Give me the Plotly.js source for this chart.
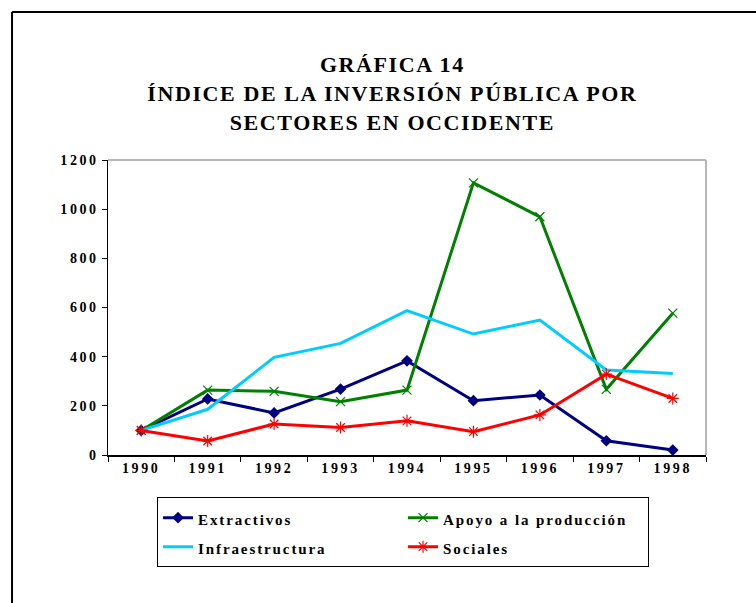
<!DOCTYPE html>
<html><head><meta charset="utf-8">
<script src="https://cdn.plot.ly/plotly-3.0.1.min.js"></script>
<style>
html,body{margin:0;padding:0;background:#fff;}
#c{width:756px;height:603px;}
.gtitle{letter-spacing:1.6px;}
.xtick text,.ytick text{letter-spacing:2.6px;}
.legendtext{letter-spacing:1.9px;}
</style>
</head><body><div id="c"></div>
<script>
const years = ['1990','1991','1992','1993','1994','1995','1996','1997','1998'];
const extractivos = [100, 228, 171, 268, 383, 221, 244, 58, 20];
const apoyo = [100, 264, 259, 217, 264, 1107, 969, 267, 577];
const infraestructura = [100, 186, 397, 454, 587, 492, 549, 346, 332];
const sociales = [100, 57, 126, 112, 139, 95, 163, 329, 230];
const yTicks = [0, 200, 400, 600, 800, 1000, 1200];

const lbl = s => '<span style="font-size:15px">' + s + '</span>';
const traces = [
  {x: years, y: extractivos, name: lbl('Extractivos'), mode: 'lines+markers',
   line: {color: '#000080', width: 3}, marker: {symbol: 'diamond', size: 9, color: '#000080'}},
  {x: years, y: apoyo, name: lbl('Apoyo a la producción'), mode: 'lines+markers',
   line: {color: '#008000', width: 3}, marker: {symbol: 'x-thin', size: 9, line: {color: '#008000', width: 1.2}}},
  {x: years, y: infraestructura, name: lbl('Infraestructura'), mode: 'lines',
   line: {color: '#00CCFF', width: 3}},
  {x: years, y: sociales, name: lbl('Sociales'), mode: 'lines+markers',
   line: {color: '#FF0000', width: 3}, marker: {symbol: 'asterisk-open', size: 10, line: {color: '#FF0000', width: 1.2}}}
];

const serif = 'Liberation Serif, Times New Roman, serif';
const layout = {
  width: 756, height: 603,
  margin: {l: 108, r: 50, t: 160, b: 148},
  paper_bgcolor: '#fff', plot_bgcolor: '#fff',
  title: {text: 'GRÁFICA 14<br>ÍNDICE DE LA INVERSIÓN PÚBLICA POR<br>SECTORES EN OCCIDENTE',
          font: {family: serif, size: 22, color: '#000', weight: 'bold'},
          x: 0.519, xanchor: 'center', y: 0.88, yanchor: 'top'},
  xaxis: {type: 'category', tickson: 'boundaries', ticks: 'outside', ticklen: 5, tickcolor: '#000',
          showline: true, linecolor: '#000', linewidth: 1.5, showgrid: false, zeroline: false,
          tickfont: {family: serif, size: 14, color: '#000', weight: 'bold'}, range: [-0.5, 8.5]},
  yaxis: {range: [0, 1200], tickvals: yTicks, ticks: 'outside', ticklen: 5, tickcolor: '#000',
          showline: true, linecolor: '#000', linewidth: 1.5, showgrid: false, zeroline: false,
          tickfont: {family: serif, size: 14, color: '#000', weight: 'bold'}},
  showlegend: true,
  legend: {orientation: 'h', x: 0.082, xanchor: 'left', y: -0.143, yanchor: 'top',
           entrywidth: 200, bordercolor: '#000', borderwidth: 1, bgcolor: '#fff',
           font: {family: serif, size: 20, color: '#000', weight: 'bold'}, tracegroupgap: 0, itemwidth: 30},
  shapes: [
    {type: 'line', xref: 'paper', yref: 'paper', x0: 0, x1: 1, y0: 1, y1: 1, line: {color: '#a0a0a0', width: 1.5}},
    {type: 'line', xref: 'paper', yref: 'paper', x0: 1, x1: 1, y0: 0, y1: 1, line: {color: '#a0a0a0', width: 1.5}},
    {type: 'line', xref: 'paper', yref: 'paper', x0: -0.1605, x1: -0.1605, y0: 1.5017, y1: -0.51, line: {color: '#000', width: 2}},
    {type: 'line', xref: 'paper', yref: 'paper', x0: -0.1605, x1: 1.1, y0: 1.5017, y1: 1.5017, line: {color: '#000', width: 2}}
  ]
};
Plotly.newPlot('c', traces, layout, {displayModeBar: false, staticPlot: true});
</script></body></html>
